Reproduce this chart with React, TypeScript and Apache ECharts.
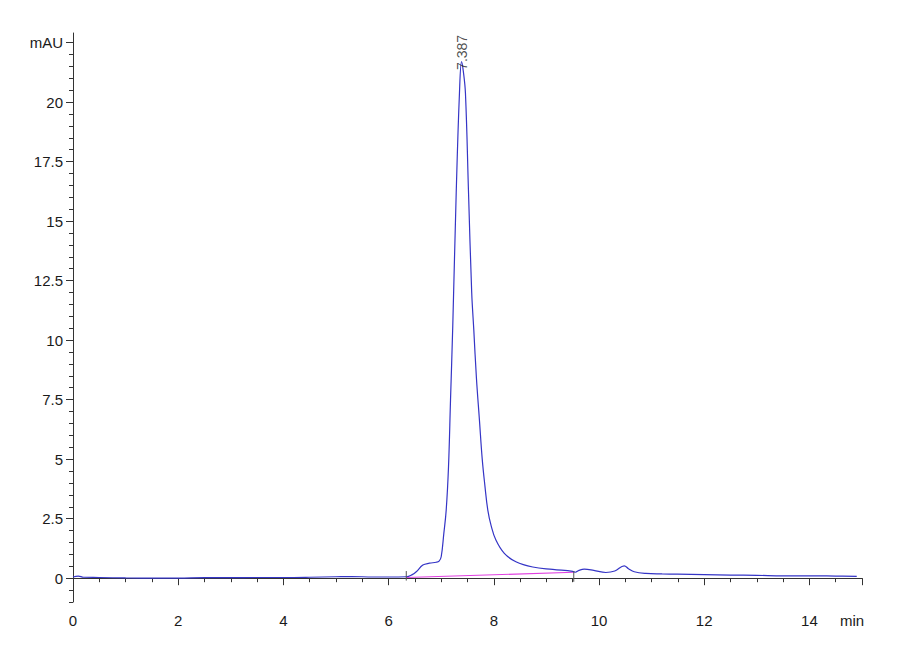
import React, { useEffect, useRef } from 'react';
import * as echarts from 'echarts';

// retention time (min) and absorbance (mAU)
const retentionTimes = [
  0, 0.1, 0.2, 0.5, 1.0, 1.5, 2.0, 2.5, 3.0, 3.5, 4.0, 4.5, 5.0, 5.3, 5.7, 6.0,
  6.336, 6.45, 6.526, 6.651, 6.778, 6.905, 6.96, 7.0, 7.05, 7.095, 7.139, 7.177,
  7.22, 7.285, 7.347, 7.387, 7.42, 7.461, 7.52, 7.58, 7.62, 7.67, 7.727, 7.78,
  7.83, 7.886, 7.95, 8.04, 8.2, 8.42, 8.74, 9.12, 9.5, 9.55, 9.62, 9.72, 9.9,
  10.13, 10.3, 10.48, 10.56, 10.67, 10.89, 11.2, 11.49, 12, 12.5, 13, 13.5, 14,
  14.5, 14.9,
];
const absorbance = [
  0.05, 0.09, 0.04, 0.03, 0.01, 0.0, 0.0, 0.02, 0.02, 0.03, 0.03, 0.04, 0.06,
  0.07, 0.05, 0.05, 0.06, 0.15, 0.27, 0.55, 0.63, 0.67, 0.72, 0.9, 1.88, 2.86,
  4.68, 7.48, 10.6, 16.16, 20.37, 21.7, 21.3, 20.37, 16.16, 12.0, 10.42, 8.4,
  6.64, 5.0, 3.9, 2.86, 2.2, 1.6, 1.04, 0.69, 0.47, 0.37, 0.29, 0.25, 0.33,
  0.38, 0.33, 0.24, 0.3, 0.52, 0.4, 0.27, 0.2, 0.18, 0.17, 0.15, 0.13, 0.12,
  0.1, 0.1, 0.09, 0.08,
];

// integration baseline under the main peak
const baselineTimes = [6.336, 9.52];
const baselineValues = [0.03, 0.25];

const peakTime = 7.387;
const peakHeight = 21.7;
const peakLabel = '7.387';

const yMajorTicks = [0, 2.5, 5, 7.5, 10, 12.5, 15, 17.5, 20, 22.5];
const yMinorTicks = [
  -1, -0.5, 0.5, 1, 1.5, 2, 3, 3.5, 4, 4.5, 5.5, 6, 6.5, 7, 8, 8.5, 9, 9.5,
  10.5, 11, 11.5, 12, 13, 13.5, 14, 14.5, 15.5, 16, 16.5, 17, 18, 18.5, 19,
  19.5, 20.5, 21, 21.5, 22,
];

const FONT = '"Liberation Sans Narrow", "Liberation Sans", Arial, sans-serif';

const App: React.FC = () => {
  const chartRef = useRef<HTMLDivElement>(null);

  useEffect(() => {
    document.body.style.margin = '0';
    if (!chartRef.current) return;
    const chart = echarts.init(chartRef.current, undefined, { renderer: 'svg' });

    const trace = retentionTimes.map((t, i) => [t, absorbance[i]]);
    const baseline = baselineTimes.map((t, i) => [t, baselineValues[i]]);

    const option = {
      animation: false,
      backgroundColor: '#ffffff',
      grid: { left: 73, right: 38, top: 33, bottom: 58 },
      xAxis: {
        type: 'value',
        min: 0,
        max: 15,
        interval: 2,
        axisLine: { lineStyle: { color: '#333', width: 1 } },
        axisTick: { show: true, length: 7, lineStyle: { color: '#333' } },
        minorTick: { show: true, splitNumber: 4, length: 4, lineStyle: { color: '#333' } },
        axisLabel: {
          fontFamily: FONT,
          fontSize: 15,
          color: '#1a1a1a',
          margin: 11,
          showMaxLabel: true,
          formatter: (v: number) => (v === 15 ? '{m|min}' : String(v)),
          rich: {
            m: {
              fontFamily: FONT,
              fontSize: 15,
              color: '#1a1a1a',
              padding: [0, 20, 0, 0],
            },
          },
        },
        splitLine: { show: false },
      },
      yAxis: [
        {
          type: 'value',
          min: -1,
          max: 22.9,
          axisLine: { show: true, lineStyle: { color: '#333', width: 1 } },
          axisTick: {
            show: true,
            length: 7,
            customValues: yMajorTicks,
            lineStyle: { color: '#333' },
          },
          axisLabel: {
            fontFamily: FONT,
            fontSize: 15,
            color: '#1a1a1a',
            margin: 10,
            customValues: yMajorTicks,
            formatter: (v: number) => (v === 22.5 ? 'mAU' : String(v)),
          },
          splitLine: { show: false },
        },
        {
          type: 'value',
          min: -1,
          max: 22.9,
          position: 'left',
          axisLine: { show: false },
          axisTick: {
            show: true,
            length: 4,
            customValues: yMinorTicks,
            lineStyle: { color: '#333' },
          },
          axisLabel: { show: false },
          splitLine: { show: false },
        },
      ],
      series: [
        {
          name: 'baseline',
          type: 'line',
          data: baseline,
          symbol: 'none',
          lineStyle: { color: '#e040e0', width: 1.2 },
          z: 2,
        },
        {
          name: 'trace',
          type: 'line',
          data: trace,
          symbol: 'none',
          smooth: 0.4,
          lineStyle: { color: '#3535c6', width: 1.2 },
          z: 3,
        },
        {
          name: 'start mark',
          type: 'line',
          data: [
            [baselineTimes[0], 0.3],
            [baselineTimes[0], -0.1],
          ],
          symbol: 'none',
          lineStyle: { color: '#555', width: 1 },
          z: 4,
        },
        {
          name: 'end mark',
          type: 'line',
          data: [
            [baselineTimes[1], 0.3],
            [baselineTimes[1], -0.15],
          ],
          symbol: 'none',
          lineStyle: { color: '#555', width: 1 },
          z: 4,
        },
        {
          name: 'peak label',
          type: 'scatter',
          data: [[peakTime, peakHeight - 0.35]],
          symbolSize: 0,
          label: {
            show: true,
            formatter: peakLabel,
            position: 'inside',
            rotate: 90,
            align: 'left',
            verticalAlign: 'middle',
            fontFamily: '"Liberation Sans", Arial, sans-serif',
            fontSize: 14,
            color: '#222',
          },
          z: 5,
        },
      ],
    };

    chart.setOption(option);
    return () => {
      chart.dispose();
    };
  }, []);

  return <div ref={chartRef} style={{ width: '900px', height: '660px' }} />;
};

export default App;
